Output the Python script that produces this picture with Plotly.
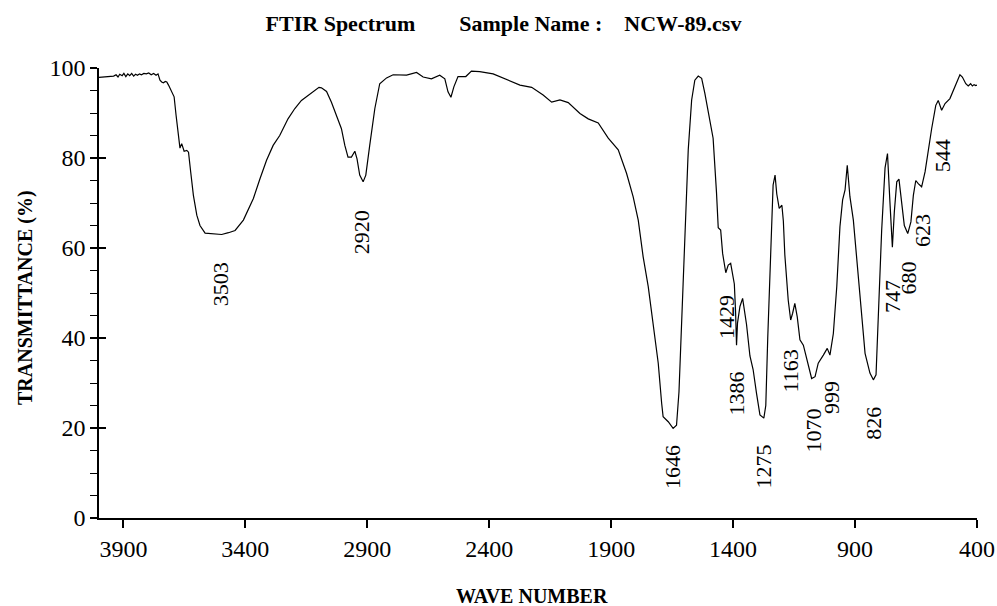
import plotly.graph_objects as go

# ---------------- data ----------------
wavenumber = [
    4000, 3985, 3970, 3955, 3940, 3930, 3922, 3915, 3905, 3898, 3890, 3882, 3874, 3866,
    3858, 3850, 3842, 3834, 3826, 3816, 3806, 3796, 3786, 3776, 3766, 3758, 3750, 3743,
    3736, 3728, 3722, 3715, 3702, 3692, 3684, 3674, 3668, 3661, 3651, 3640, 3633, 3624,
    3613, 3599, 3586, 3565, 3531, 3497, 3469, 3442, 3408, 3367, 3340, 3313, 3286, 3259,
    3225, 3197, 3170, 3136, 3108, 3098, 3088, 3067, 3047, 3020, 3006, 2992, 2979, 2965,
    2951, 2942, 2931, 2917, 2906, 2890, 2869, 2849, 2821, 2794, 2767, 2739, 2698, 2671,
    2637, 2603, 2582, 2569, 2557, 2545, 2528, 2496, 2473, 2439, 2384, 2329, 2274, 2226,
    2179, 2144, 2110, 2076, 2028, 1994, 1953, 1912, 1871, 1837, 1810, 1789, 1769, 1748,
    1728, 1707, 1693, 1687, 1666, 1646, 1632, 1622, 1605, 1584, 1570, 1557, 1543, 1529,
    1516, 1495, 1482, 1468, 1461, 1451, 1443, 1430, 1420, 1410, 1402, 1395, 1390, 1386,
    1382, 1372, 1361, 1345, 1331, 1318, 1304, 1290, 1274, 1266, 1258, 1249, 1236, 1228,
    1221, 1211, 1200, 1194, 1188, 1174, 1164, 1156, 1147, 1137, 1126, 1112, 1101, 1092,
    1078, 1064, 1051, 1030, 1014, 1003, 989, 975, 962, 951, 941, 932, 921, 907,
    893, 880, 859, 839, 825, 814, 805, 791, 777, 767, 757, 747, 739, 729,
    720, 712, 698, 684, 671, 661, 651, 641, 627, 613, 600, 586, 569, 559,
    545, 531, 511, 490, 470, 460, 446, 436, 426, 419, 412, 405, 400,
]
transmittance = [
    97.9, 98.0, 98.0, 98.1, 98.2, 98.5, 98.0, 98.6, 98.3, 98.8, 98.1, 98.7, 98.3, 98.8,
    98.2, 98.6, 98.4, 98.7, 98.5, 98.8, 98.7, 98.9, 98.5, 98.8, 98.4, 98.7, 97.3, 96.9,
    96.7, 97.0, 96.9, 96.2, 94.7, 93.6, 89.5, 85.4, 82.2, 83.2, 81.5, 81.7, 81.3, 76.9,
    71.7, 67.3, 65.0, 63.3, 63.1, 63.0, 63.4, 63.9, 66.2, 71.0, 75.4, 79.5, 82.8, 85.0,
    88.7, 91.0, 92.8, 94.2, 95.4, 95.7, 95.6, 94.8, 92.4, 88.7, 86.5, 82.8, 80.2, 80.2,
    81.5, 79.8, 76.2, 74.7, 76.2, 82.8, 91.0, 96.5, 97.8, 98.5, 98.5, 98.4, 99.0, 98.0,
    97.6, 98.4, 97.6, 94.7, 93.5, 95.8, 98.1, 98.1, 99.3, 99.2, 98.7, 97.5, 96.2, 95.7,
    94.0, 92.4, 92.9, 92.3, 89.9, 88.7, 87.8, 84.4, 81.8, 76.6, 71.4, 66.2, 58.1, 51.4,
    43.3, 34.4, 25.5, 22.5, 21.4, 19.9, 20.6, 28.0, 52.0, 81.8, 92.9, 97.3, 98.2, 97.7,
    94.4, 88.4, 84.4, 72.2, 64.5, 64.0, 58.8, 54.5, 56.2, 56.6, 54.4, 52.0, 46.0, 38.4,
    43.3, 47.0, 48.8, 43.0, 36.0, 33.0, 27.7, 22.9, 22.2, 25.0, 40.0, 55.0, 74.0, 76.2,
    72.0, 68.8, 69.5, 66.0, 58.5, 48.4, 44.0, 45.5, 47.7, 44.7, 39.6, 38.4, 35.8, 33.6,
    31.0, 31.4, 34.4, 36.2, 37.7, 36.2, 41.0, 51.4, 64.7, 70.7, 72.9, 78.4, 71.4, 66.2,
    57.3, 48.4, 36.6, 32.2, 30.7, 31.8, 45.0, 63.8, 77.8, 81.0, 70.2, 60.2, 68.0, 74.7,
    75.3, 71.7, 65.0, 63.2, 65.8, 71.7, 75.0, 74.3, 73.6, 76.9, 82.1, 86.5, 91.7, 92.8,
    90.6, 92.1, 93.2, 95.8, 98.5, 98.0, 96.5, 96.0, 96.5, 96.0, 96.3, 96.1, 96.2,
]

peak_wn = [3503, 2920, 1646, 1429, 1386, 1275, 1163, 1070, 999, 826, 747, 680, 623, 544]
peak_labels = [str(p) for p in peak_wn]
peak_label_T = [57.3, 68.9, 16.7, 50.0, 32.9, 16.7, 38.0, 24.7, 31.0, 25.1, 53.3, 57.5, 68.0, 84.7]

x_ticks = [3900, 3400, 2900, 2400, 1900, 1400, 900, 400]
y_ticks = [0, 20, 40, 60, 80, 100]

title_text = "FTIR Spectrum" + "\u00a0" * 8 + "Sample Name :" + "\u00a0" * 4 + "NCW-89.csv"
x_title = "WAVE NUMBER"
y_title = "TRANSMITTANCE (%)"

# ---------------- figure ----------------
FONT = "Liberation Serif"
BLACK = "#000000"

fig = go.Figure()
fig.add_trace(go.Scatter(
    x=wavenumber, y=transmittance, mode="lines",
    line=dict(color=BLACK, width=1.2), showlegend=False, hoverinfo="skip",
))
# same data on an overlaid axis, only used to give the y axis crossing major ticks
fig.add_trace(go.Scatter(
    x=wavenumber, y=transmittance, yaxis="y2", mode="lines",
    line=dict(color=BLACK, width=1.2), opacity=0, showlegend=False, hoverinfo="skip",
))

for wn, lab, ty in zip(peak_wn, peak_labels, peak_label_T):
    fig.add_annotation(
        x=wn, y=ty, xref="x", yref="y", text=lab, showarrow=False,
        textangle=-90, xanchor="center", yanchor="top",
        font=dict(family=FONT, size=22, color=BLACK),
    )

fig.add_annotation(
    x=0.493, y=-0.173, xref="paper", yref="paper", text="<b>" + x_title + "</b>",
    showarrow=False, xanchor="center", yanchor="middle",
    font=dict(family=FONT, size=20, color=BLACK),
)
fig.add_annotation(
    x=-0.0843, y=0.491, xref="paper", yref="paper", text="<b>" + y_title + "</b>",
    showarrow=False, xanchor="center", yanchor="middle", textangle=-90,
    font=dict(family=FONT, size=20, color=BLACK),
)

fig.update_layout(
    width=997, height=606,
    margin=dict(l=99, r=20, t=68, b=88, autoexpand=False),
    paper_bgcolor="white", plot_bgcolor="white",
    font=dict(family=FONT, color=BLACK),
    title=dict(
        text="<b>" + title_text + "</b>", xref="container", yref="container",
        x=0.505, y=0.962, xanchor="center", yanchor="middle",
        font=dict(family=FONT, size=22, color=BLACK),
    ),
    xaxis=dict(
        range=[4000, 400], tickvals=x_ticks, ticktext=[str(t) for t in x_ticks],
        ticks="outside", ticklen=8, tickwidth=1.5, tickcolor=BLACK,
        showline=True, linecolor=BLACK, linewidth=1.5,
        showgrid=False, zeroline=False, automargin=False,
        tickfont=dict(family=FONT, size=24, color=BLACK),
    ),
    yaxis=dict(
        range=[0, 100], tickvals=y_ticks,
        ticks="outside", ticklen=7, tickwidth=1.5, tickcolor=BLACK,
        minor=dict(dtick=5, ticks="outside", ticklen=7, tickwidth=1.2, tickcolor=BLACK),
        showline=True, linecolor=BLACK, linewidth=1.5,
        showgrid=False, zeroline=False, automargin=False,
        tickfont=dict(family=FONT, size=24, color=BLACK),
    ),
    yaxis2=dict(
        overlaying="y", side="left", range=[0, 100], tickvals=y_ticks,
        ticks="inside", ticklen=7, tickwidth=1.5, tickcolor=BLACK,
        showticklabels=False, showline=False, showgrid=False, zeroline=False,
        automargin=False,
    ),
)

fig.write_html("out.html")
